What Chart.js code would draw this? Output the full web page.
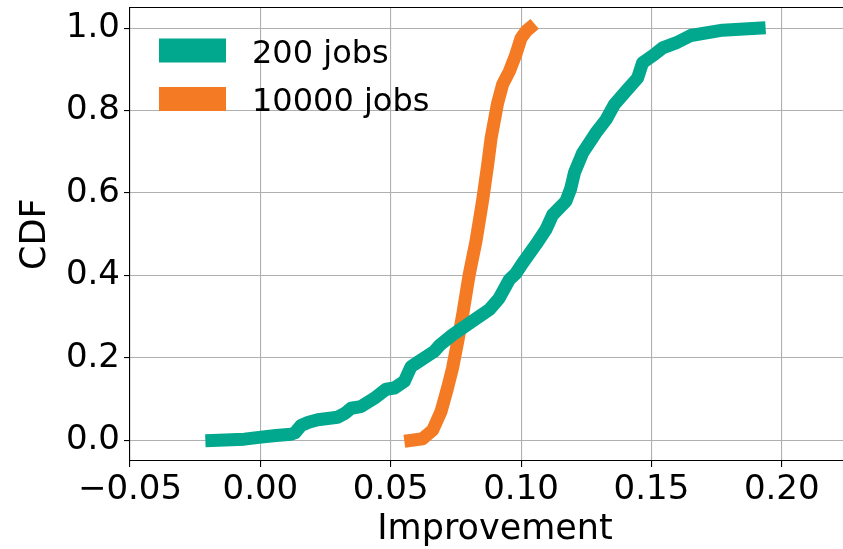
<!DOCTYPE html>
<html>
<head>
<meta charset="utf-8">
<script src="https://cdn.jsdelivr.net/npm/chart.js@4/dist/chart.umd.min.js"></script>
<style>
  html, body { margin: 0; padding: 0; background: #fff; overflow: hidden; }
  #wrap { width: 860px; height: 549px; position: relative; }
</style>
</head>
<body>
<div id="wrap"><canvas id="c" width="860" height="549"></canvas></div>
<script>
// Empirical CDFs of the improvement for the two workload sizes
const seriesLabels = ['200 jobs', '10000 jobs'];
const seriesColors = ['#01a88e', '#f47b24'];

const jobs200X = [-0.0186, -0.0061, 0.0003, 0.0060, 0.0118, 0.0132, 0.0156, 0.0185, 0.0220, 0.0296,
                  0.0325, 0.0348, 0.0386, 0.0437, 0.0482, 0.0514, 0.0552, 0.0578, 0.0605, 0.0629,
                  0.0667, 0.0690, 0.0737, 0.0801, 0.0878, 0.0916, 0.0955, 0.0980, 0.1006, 0.1057,
                  0.1095, 0.1121, 0.1172, 0.1190, 0.1205, 0.1236, 0.1287, 0.1326, 0.1357, 0.1402,
                  0.1447, 0.1466, 0.1511, 0.1543, 0.1594, 0.1651, 0.1773, 0.1888, 0.1913];
const jobs200Y = [0.000, 0.003, 0.008, 0.012, 0.015, 0.018, 0.036, 0.044, 0.050, 0.056,
                  0.066, 0.078, 0.082, 0.102, 0.124, 0.127, 0.143, 0.179, 0.190, 0.200,
                  0.216, 0.232, 0.256, 0.284, 0.317, 0.345, 0.390, 0.405, 0.430, 0.475,
                  0.511, 0.547, 0.580, 0.610, 0.650, 0.697, 0.746, 0.778, 0.814, 0.847,
                  0.879, 0.916, 0.936, 0.952, 0.964, 0.982, 0.995, 0.999, 1.000];

const jobs10000X = [0.0577, 0.0622, 0.0661, 0.0693, 0.0718, 0.0737, 0.0757, 0.0776, 0.0801, 0.0827,
                    0.0852, 0.0872, 0.0885, 0.0897, 0.0910, 0.0929, 0.0955, 0.0980, 0.1000, 0.1020,
                    0.1033];
const jobs10000Y = [0.000, 0.004, 0.025, 0.070, 0.127, 0.175, 0.240, 0.305, 0.402, 0.483,
                    0.580, 0.669, 0.733, 0.774, 0.818, 0.863, 0.895, 0.936, 0.976, 0.993,
                    1.000];

const xTicks = [-0.05, 0.00, 0.05, 0.10, 0.15, 0.20];
const yTicks = [0.0, 0.2, 0.4, 0.6, 0.8, 1.0];

const FONT = 'DejaVu Sans';
const TICK_SIZE = 34;
const TITLE_SIZE = 35;
const LEGEND_SIZE = 32;

function toPoints(xs, ys) {
  return xs.map((x, i) => ({ x: x, y: ys[i] }));
}

function fmtX(v) {
  const s = Math.abs(v).toFixed(2);
  return v < -1e-9 ? '\u2212' + s : s;
}

// Frame line along the top of the plot area
const topSpine = {
  id: 'topSpine',
  afterDraw(chart) {
    const { ctx, chartArea } = chart;
    ctx.save();
    ctx.strokeStyle = '#000';
    ctx.lineWidth = 1.1;
    ctx.beginPath();
    ctx.moveTo(chartArea.left, chartArea.top);
    ctx.lineTo(chartArea.right, chartArea.top);
    ctx.stroke();
    ctx.restore();
  }
};

// Frameless legend in the upper-left corner with wide colour swatches
const swatchLegend = {
  id: 'swatchLegend',
  afterDraw(chart) {
    const { ctx } = chart;
    ctx.save();
    ctx.font = LEGEND_SIZE + 'px "' + FONT + '"';
    ctx.textBaseline = 'alphabetic';
    ctx.textAlign = 'left';
    chart.data.datasets.forEach((ds, i) => {
      const cy = 50.5 + i * 48.5;
      ctx.fillStyle = ds.borderColor;
      ctx.fillRect(159, cy - 12, 67, 24);
      ctx.fillStyle = '#000';
      ctx.fillText(ds.label, 252, cy + 12);
    });
    ctx.restore();
  }
};

new Chart(document.getElementById('c'), {
  type: 'line',
  data: {
    datasets: [
      { label: seriesLabels[0], data: toPoints(jobs200X, jobs200Y), borderColor: seriesColors[0] },
      { label: seriesLabels[1], data: toPoints(jobs10000X, jobs10000Y), borderColor: seriesColors[1] }
    ]
  },
  options: {
    responsive: false,
    animation: false,
    devicePixelRatio: 1,
    layout: { padding: { top: 7.5, left: 0, right: 0, bottom: 0 } },
    elements: {
      line: { borderWidth: 13, tension: 0, fill: false, borderCapStyle: 'square', borderJoinStyle: 'round' },
      point: { radius: 0, hoverRadius: 0 }
    },
    plugins: { legend: { display: false }, tooltip: { enabled: false } },
    scales: {
      x: {
        type: 'linear',
        position: 'bottom',
        min: -0.05,
        max: 0.23,
        afterBuildTicks: (s) => { s.ticks = xTicks.map(v => ({ value: v })); },
        afterFit: (s) => { s.height = 88; s.paddingLeft = 0; s.paddingRight = 0; },
        ticks: {
          callback: (v) => fmtX(v),
          font: { family: FONT, size: TICK_SIZE },
          color: '#000',
          padding: 3,
          maxRotation: 0,
          autoSkip: false
        },
        grid: { color: '#b0b0b0', lineWidth: 1.1, tickColor: '#000', tickLength: 6, tickWidth: 1.1 },
        border: { display: true, color: '#000', width: 1.1 },
        title: {
          display: true,
          text: 'Improvement',
          color: '#000',
          font: { family: FONT, size: TITLE_SIZE, lineHeight: 1 },
          padding: { top: 0, bottom: 1.5 }
        }
      },
      y: {
        type: 'linear',
        min: -0.05,
        max: 1.05,
        afterBuildTicks: (s) => { s.ticks = yTicks.map(v => ({ value: v })); },
        afterFit: (s) => { s.width = 130; s.paddingTop = 0; s.paddingBottom = 0; },
        ticks: {
          callback: (v) => v.toFixed(1),
          font: { family: FONT, size: TICK_SIZE },
          color: '#000',
          padding: 4
        },
        grid: { color: '#b0b0b0', lineWidth: 1.1, tickColor: '#000', tickLength: 6, tickWidth: 1.1 },
        border: { display: true, color: '#000', width: 1.1 },
        title: {
          display: true,
          text: 'CDF',
          color: '#000',
          font: { family: FONT, size: TITLE_SIZE, lineHeight: 1 },
          padding: { top: 18.5, bottom: 0 }
        }
      }
    }
  },
  plugins: [topSpine, swatchLegend]
});
</script>
</body>
</html>
